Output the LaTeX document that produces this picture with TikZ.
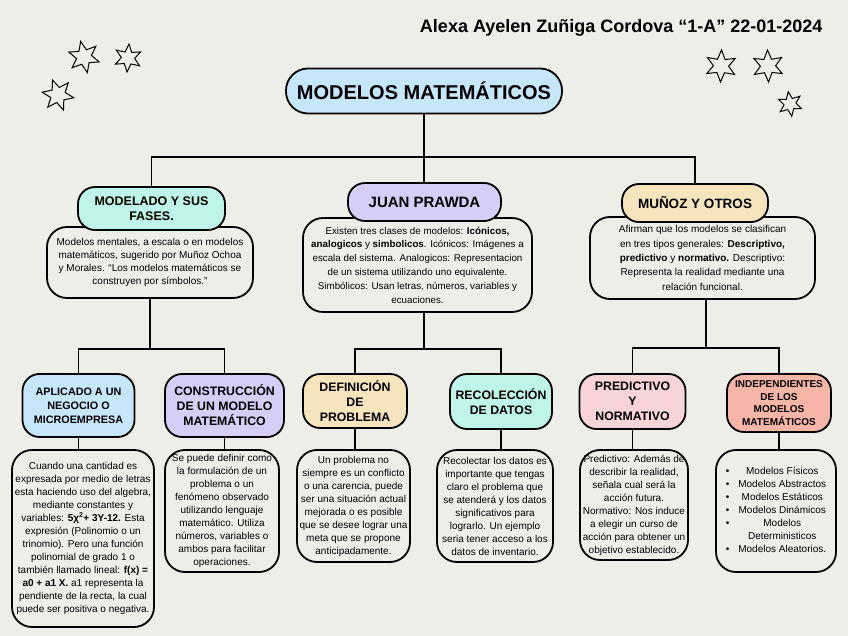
\documentclass[tikz,border=0pt]{standalone}
\usepackage{fontspec}
\setmainfont{Liberation Sans}
\usetikzlibrary{shapes.geometric}
\definecolor{fondo}{RGB}{238,238,233}
\definecolor{azul}{RGB}{198,231,251}
\definecolor{menta}{RGB}{191,245,232}
\definecolor{lila}{RGB}{214,206,247}
\definecolor{crema}{RGB}{246,228,188}
\definecolor{rosa}{RGB}{248,212,216}
\definecolor{salmon}{RGB}{247,181,168}
\tikzset{
  cabeza/.style={draw, line width=1.8pt, rounded corners=17pt, align=center, inner sep=0pt,
    font=\fontsize{12.3}{15}\selectfont\bfseries},
  caja/.style={draw, line width=1.8pt, rounded corners=20pt, fill=fondo, align=center, inner sep=0pt,
    font=\fontsize{10}{13}\selectfont},
  linea/.style={line width=1.5pt},
  estrella/.style={draw, line width=1pt, star, star points=6, star point ratio=2.1, inner sep=0pt, minimum size=#1}
}
\begin{document}
\begin{tikzpicture}[x=1pt,y=-1pt]
\fill[fondo] (0,0) rectangle (848,636);
\useasboundingbox (0,0) rectangle (848,636);
\node[anchor=east, font=\fontsize{18}{21}\selectfont\bfseries] (autora) at (826,28) {Alexa Ayelen Zuñiga Cordova “1-A” 22-01-2024};
\node[estrella=32pt, rotate=12] (e1) at (84,57) {};
\node[estrella=28pt, rotate=-4] (e2) at (128,58) {};
\node[estrella=32pt, rotate=20] (e3) at (58,95) {};
\node[estrella=32pt, rotate=-2] (e4) at (721,66) {};
\node[estrella=32pt, rotate=2] (e5) at (768,66) {};
\node[estrella=25pt, rotate=8] (e6) at (790,104) {};
\node[cabeza, fill=azul, minimum width=276pt, minimum height=45pt, rounded corners=22pt,
  font=\fontsize{20}{24}\selectfont\bfseries] (modelos) at (424,91) {MODELOS MATEMÁTICOS};
\node[caja, minimum width=206pt, minimum height=71pt] (dmodelado) at (150,262.5) {Modelos mentales, a escala o en modelos\\ matemáticos, sugerido por Muñoz Ochoa\\ y Morales. “Los modelos matemáticos se\\ construyen por símbolos.”};
\node[caja, minimum width=229pt, minimum height=94pt, font=\fontsize{9.8}{13.8}\selectfont] (dprawda) at (417.5,265) {Existen tres clases de modelos: \textbf{Icónicos,}\\ \textbf{analogicos} y \textbf{simbolicos}. Icónicos: Imágenes a\\ escala del sistema. Analogicos: Representacion\\ de un sistema utilizando uno equivalente.\\ Simbólicos: Usan letras, números, variables y\\ ecuaciones.};
\node[caja, minimum width=225pt, minimum height=82pt, font=\fontsize{10}{14.3}\selectfont] (dmunoz) at (702.5,258) {Afirman que los modelos se clasifican\\ en tres tipos generales: \textbf{Descriptivo,}\\ \textbf{predictivo} y \textbf{normativo.} Descriptivo:\\ Representa la realidad mediante una\\ relación funcional.};
\node[cabeza, fill=menta, minimum width=147pt, minimum height=43pt, font=\fontsize{12.5}{15}\selectfont\bfseries] (modelado) at (151.5,208.5) {MODELADO Y SUS\\ FASES.};
\node[cabeza, fill=lila, minimum width=153pt, minimum height=38pt, font=\fontsize{15}{18}\selectfont\bfseries] (prawda) at (424.5,202) {JUAN PRAWDA};
\node[cabeza, fill=crema, minimum width=146pt, minimum height=38pt, font=\fontsize{13.5}{16}\selectfont\bfseries] (munoz) at (695,203) {MUÑOZ Y OTROS};
\node[cabeza, fill=azul, minimum width=112pt, minimum height=63pt, font=\fontsize{10.8}{14}\selectfont\bfseries] (aplicado) at (78.5,405.5) {APLICADO A UN\\ NEGOCIO O\\ MICROEMPRESA};
\node[cabeza, fill=lila, minimum width=119pt, minimum height=63pt] (construccion) at (224.5,405.5) {CONSTRUCCIÓN\\ DE UN MODELO\\ MATEMÁTICO};
\node[cabeza, fill=crema, minimum width=104pt, minimum height=54pt] (definicion) at (355,401) {DEFINICIÓN\\ DE\\ PROBLEMA};
\node[cabeza, fill=menta, minimum width=102pt, minimum height=55pt] (recoleccion) at (501,401.5) {RECOLECCIÓN\\ DE DATOS};
\node[cabeza, fill=rosa, minimum width=106pt, minimum height=55pt] (predictivo) at (632.5,401.5) {PREDICTIVO\\ Y\\ NORMATIVO};
\node[cabeza, fill=salmon, minimum width=104pt, minimum height=58pt, font=\fontsize{10}{12.5}\selectfont\bfseries] (independientes) at (779,403) {INDEPENDIENTES\\ DE LOS\\ MODELOS\\ MATEMÁTICOS};
\node[caja, minimum width=142pt, minimum height=177pt] (cuando) at (83,538.5) {Cuando una cantidad es\\ expresada por medio de letras\\ esta haciendo uso del algebra,\\ mediante constantes y\\ variables: \textbf{5χ\textsuperscript{2}+ 3Y-12.} Esta\\ expresión (Polinomio o un\\ trinomio). Pero una función\\ polinomial de grado 1 o\\ también llamado lineal: \textbf{f(x) =}\\ \textbf{a0 + a1 X.} a1 representa la\\ pendiente de la recta, la cual\\ puede ser positiva o negativa.};
\node[caja, minimum width=114pt, minimum height=122pt] (sepuede) at (222,511) {Se puede definir como\\ la formulación de un\\ problema o un\\ fenómeno observado\\ utilizando lenguaje\\ matemático. Utiliza\\ números, variables o\\ ambos para facilitar\\ operaciones.};
\node[caja, minimum width=113pt, minimum height=112pt] (problema) at (353.5,506) {Un problema no\\ siempre es un conflicto\\ o una carencia, puede\\ ser una situación actual\\ mejorada o es posible\\ que se desee lograr una\\ meta que se propone\\ anticipadamente.};
\node[caja, minimum width=116pt, minimum height=112pt] (recolectar) at (495,506) {Recolectar los datos es\\ importante que tengas\\ claro el problema que\\ se atenderá y los datos\\ significativos para\\ lograrlo. Un ejemplo\\ seria tener acceso a los\\ datos de inventario.};
\node[caja, minimum width=108pt, minimum height=110pt] (predic) at (634,505) {Predictivo: Además de\\ describir la realidad,\\ señala cual será la\\ acción futura.\\ Normativo: Nos induce\\ a elegir un curso de\\ acción para obtener un\\ objetivo establecido.};
\node[caja, minimum width=120pt, minimum height=122pt] (lista) at (776,511) {\begin{tabular}{@{}c@{\hspace{9pt}}c@{}}
\textbullet & Modelos Físicos\\ \textbullet & Modelos Abstractos\\ \textbullet & Modelos Estáticos\\
\textbullet & Modelos Dinámicos\\ \textbullet & Modelos\\ & Deterministicos\\ \textbullet & Modelos Aleatorios.
\end{tabular}};
\coordinate (r1) at (424,157);
\coordinate (r2) at (150,349);
\coordinate (r3) at (424,349);
\coordinate (r4) at (706,348);
\draw[linea] (modelos) -- (r1);
\draw[linea] (r1) -| (modelado);
\draw[linea] (r1) -- (r1 |- prawda.north);
\draw[linea] (r1) -| (munoz);
\draw[linea] (r2 |- dmodelado.south) -- (r2);
\draw[linea] (r3 |- dprawda.south) -- (r3);
\draw[linea] (r4 |- dmunoz.south) -- (r4);
\draw[linea] (r2) -| (aplicado);
\draw[linea] (r2) -| (construccion);
\draw[linea] (r3) -| (definicion);
\draw[linea] (r3) -| (recoleccion);
\draw[linea] (r4) -| (predictivo);
\draw[linea] (r4) -| (independientes);
\draw[linea] (aplicado) -- (aplicado |- cuando.north);
\draw[linea] (construccion) -- (construccion |- sepuede.north);
\draw[linea] (definicion) -- (definicion |- problema.north);
\draw[linea] (recoleccion) -- (recoleccion |- recolectar.north);
\draw[linea] (predictivo) -- (predictivo |- predic.north);
\draw[linea] (independientes) -- (independientes |- lista.north);
\end{tikzpicture}
\end{document}
